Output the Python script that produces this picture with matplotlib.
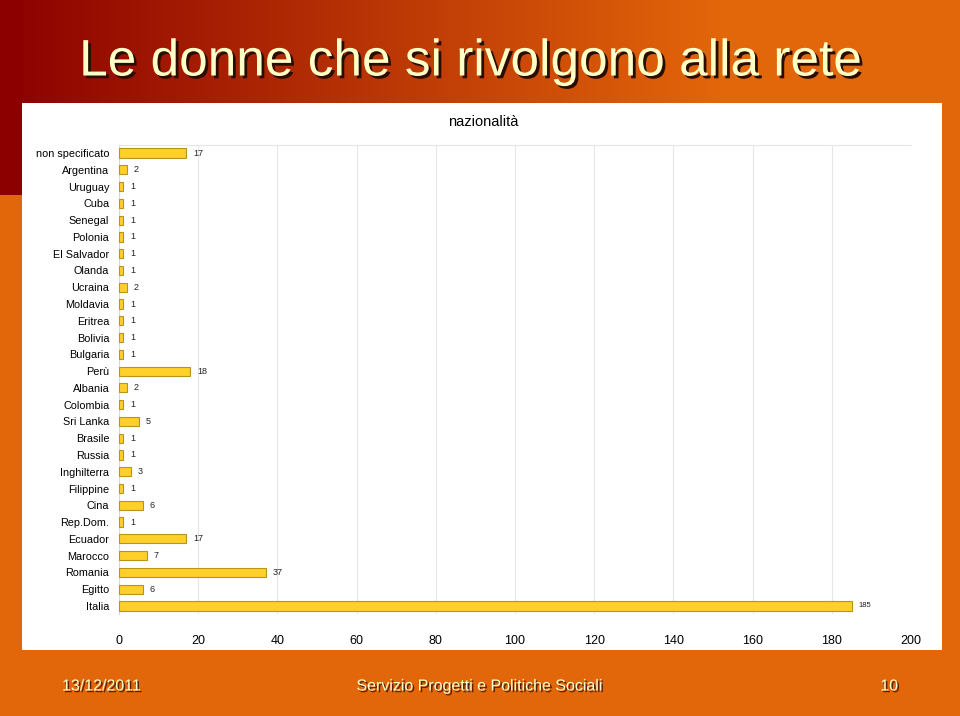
import numpy as np
import matplotlib.pyplot as plt
import matplotlib.patheffects as pe
from matplotlib.patches import Rectangle

# data, top to bottom as on the slide
paesi = ["non specificato", "Argentina", "Uruguay", "Cuba", "Senegal", "Polonia",
         "El Salvador", "Olanda", "Ucraina", "Moldavia", "Eritrea", "Bolivia",
         "Bulgaria", "Perù", "Albania", "Colombia", "Sri Lanka", "Brasile",
         "Russia", "Inghilterra", "Filippine", "Cina", "Rep.Dom.", "Ecuador",
         "Marocco", "Romania", "Egitto", "Italia"]
donne = [17, 2, 1, 1, 1, 1, 1, 1, 2, 1, 1, 1, 1, 18, 2, 1, 5, 1, 1, 3, 1, 6, 1,
         17, 7, 37, 6, 185]
xticks = [0, 20, 40, 60, 80, 100, 120, 140, 160, 180, 200]

narrow = ["Liberation Sans Narrow", "Liberation Sans", "DejaVu Sans"]

fig = plt.figure(figsize=(9.6, 7.16), dpi=100)

# slide background
W, H = 960, 716
bg = np.zeros((H, W, 3))
orange = np.array([0.89, 0.40, 0.04])
darkred = np.array([0.55, 0.0, 0.0])
bg[:, :] = orange
t = np.clip(np.linspace(0, 1, W) / 0.75, 0, 1)[:, None]
bg[:103, :] = (darkred * (1 - t) + orange * t)[None, :, :]
bg[:195, :22] = darkred
bgax = fig.add_axes([0, 0, 1, 1])
bgax.imshow(bg, aspect="auto", extent=[0, W, H, 0])
bgax.set_xlim(0, W)
bgax.set_ylim(H, 0)
bgax.axis("off")
bgax.add_patch(Rectangle((22, 103), 920, 547, facecolor="white", edgecolor="none"))

# title + footer, cream text with dark drop shadow
title_fx = [pe.withSimplePatchShadow(offset=(2, -2), shadow_rgbFace="#2a0c00", alpha=1.0)]
bgax.text(470, 62, "Le donne che si rivolgono alla rete", ha="center", va="center",
          fontsize=37, color="#FFFFC8", family=narrow, path_effects=title_fx)

foot_fx = [pe.withSimplePatchShadow(offset=(1.2, -1.2), shadow_rgbFace="#5a2000", alpha=1.0)]
for x, s, ha in [(62, "13/12/2011", "left"), (480, "Servizio Progetti e Politiche Sociali", "center"),
                 (898, "10", "right")]:
    bgax.text(x, 686, s, ha=ha, va="center", fontsize=11.5, color="#FFFFC8",
              family=narrow, path_effects=foot_fx)

# chart
ax = fig.add_axes([119 / W, 1 - 614 / H, 792 / W, 469 / H])
y = np.arange(len(paesi))
ax.barh(y, donne, height=0.55, color="#FFD02A", edgecolor="#B8941A", linewidth=0.8, zorder=3)
for yi, v in zip(y, donne):
    ax.annotate(str(v), (v, yi), xytext=(5, 0), textcoords="offset points",
                va="center", ha="left", fontsize=6.5 if v < 100 else 5.5,
                family=narrow, color="#222222")
ax.set_xlim(0, 200)
ax.set_ylim(len(paesi) - 0.52, -0.48)
ax.set_yticks(y)
ax.set_yticklabels(paesi, family=narrow, fontsize=7.8)
ax.set_xticks(xticks)
ax.set_xticklabels([str(v) for v in xticks], family=narrow, fontsize=9)
ax.tick_params(length=0, axis="x", pad=15)
ax.tick_params(length=0, axis="y", pad=7)
ax.grid(axis="x", color="#e6e6e6", linewidth=0.8, zorder=0)
for side in ["right", "bottom"]:
    ax.spines[side].set_visible(False)
ax.spines["top"].set_color("#e6e6e6")
ax.spines["left"].set_color("#d8d8d8")
ax.set_title("nazionalità", family=narrow, fontsize=10.5, pad=14, x=0.46)

plt.savefig("out.png", dpi=100)
